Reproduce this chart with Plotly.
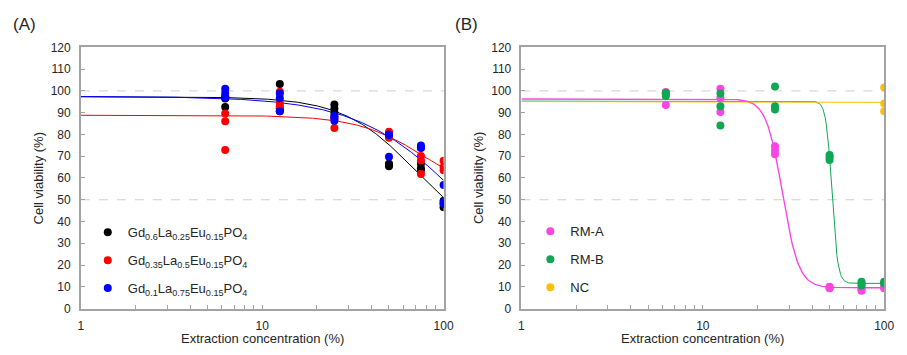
import numpy as np
import plotly.graph_objects as go

# Extraction concentrations (%) used for every sample
conc = [6.25, 12.5, 25, 50, 75, 100]

# Cell viability (%) replicates, one list per concentration
gd060 = [[92.6, 96.5, 97.5], [103.2, 90.7, 92.0], [93.7, 91.8, 90.0],
         [66.5, 65.4, 66.0], [66.5, 63.5, 64.5], [49.5, 46.6, 48.0]]
gd035 = [[89.6, 86.0, 72.9], [99.6, 94.4, 93.0], [83.0, 87.0, 88.0],
         [81.2, 79.0, 78.5], [70.1, 68.0, 61.8], [67.9, 65.0, 63.5]]
gd010 = [[101.0, 99.0, 97.0], [98.8, 96.6, 90.7], [87.8, 86.3, 88.5],
         [79.7, 80.0, 69.8], [74.9, 73.8, 74.0], [56.8, 48.1, 49.0]]

rma = [[99.5, 93.5, 99.0], [101.0, 96.6, 90.3], [74.6, 70.9, 72.5],
       [9.6, 10.0, 9.3], [8.2, 9.0, 9.5], [9.6, 10.0, 9.3]]
rmb = [[99.1, 97.6, 98.5], [98.8, 92.9, 84.1], [102.0, 93.0, 91.5],
       [70.6, 68.2, 69.5], [12.3, 10.6, 11.5], [12.35, 11.8, 11.5]]
nc_conc = [100]
nc = [[101.5, 94.2, 90.7]]

# Four-parameter logistic fits: (top, bottom, EC50, Hill slope)
fit_a = {"gd060": (97.3, 30.0, 69.6, 2.18),
         "gd035": (88.8, 50.0, 80.0, 2.31),
         "gd010": (97.5, 0.0, 133.0, 1.48)}
fit_b = {"rma": (96.3, 9.6, 27.5, 9.7),
         "rmb": (95.3, 11.6, 51.5, 27.0),
         "nc": (95.1, 94.0, 110.0, 4.0)}

# Reference levels drawn as dashed guides
ref_levels = [100, 50]

names_a = {"gd060": "Gd<sub>0.6</sub>La<sub>0.25</sub>Eu<sub>0.15</sub>PO<sub>4</sub>",
           "gd035": "Gd<sub>0.35</sub>La<sub>0.5</sub>Eu<sub>0.15</sub>PO<sub>4</sub>",
           "gd010": "Gd<sub>0.1</sub>La<sub>0.75</sub>Eu<sub>0.15</sub>PO<sub>4</sub>"}
names_b = {"rma": "RM-A", "rmb": "RM-B", "nc": "NC"}

colors = {"gd060": "#000000", "gd035": "#FF0000", "gd010": "#0000FF",
          "rma": "#FA45E6", "rmb": "#10A653", "nc": "#FFBF00"}

data_a = {"gd060": (conc, gd060), "gd035": (conc, gd035), "gd010": (conc, gd010)}
data_b = {"rma": (conc, rma), "rmb": (conc, rmb), "nc": (nc_conc, nc)}

FONT = "Liberation Sans, Arial, sans-serif"
W, H = 907, 355


def logistic(x, top, bottom, ec50, hill):
    return bottom + (top - bottom) / (1.0 + (x / ec50) ** hill)


def flatten(xs, reps):
    px, py = [], []
    for x, ys in zip(xs, reps):
        for y in ys:
            px.append(x)
            py.append(y)
    return px, py


fig = go.Figure()
xfit = np.logspace(0, 2, 400)

panels = [("x", "y", "legend", data_a, fit_a, names_a),
          ("x2", "y2", "legend2", data_b, fit_b, names_b)]

for xa, ya, leg, data, fits, names in panels:
    for key, pars in fits.items():
        lw = 1.4 if key == "rma" else 1.0
        fig.add_trace(go.Scatter(
            x=xfit, y=logistic(xfit, *pars), mode="lines",
            line=dict(color=colors[key], width=lw),
            showlegend=False, hoverinfo="skip", xaxis=xa, yaxis=ya))
    for key, (xs, reps) in data.items():
        px, py = flatten(xs, reps)
        fig.add_trace(go.Scatter(
            x=px, y=py, mode="markers", name=names[key],
            marker=dict(color=colors[key], size=8, line=dict(width=0)),
            legend=leg, legendgroup=key, xaxis=xa, yaxis=ya))

x_dom_a = [79 / W, 447 / W]
x_dom_b = [526 / W, 894 / W]
y_dom = [(H - 314) / H, (H - 42) / H]

frame = "#A3A3A3"
tick_font = dict(family=FONT, size=12, color="#262626")

xaxis_common = dict(
    type="log", range=[0, 2], tickvals=[1, 10, 100], ticktext=["1", "10", "100"],
    ticks="inside", ticklen=4, tickcolor=frame, tickwidth=1,
    minor=dict(ticks="inside", ticklen=4, tickcolor=frame, dtick="D1", showgrid=False),
    showline=True, linecolor=frame, linewidth=1.5, mirror=True,
    showgrid=False, zeroline=False, tickfont=tick_font, ticklabelstandoff=5)
yaxis_common = dict(
    range=[0, 120], dtick=10, tick0=0,
    ticks="inside", ticklen=4, tickcolor=frame, tickwidth=1,
    showline=True, linecolor=frame, linewidth=1.5, mirror=True,
    showgrid=False, zeroline=False, tickfont=tick_font, ticklabelstandoff=6)

fig.update_layout(
    width=W, height=H, margin=dict(l=0, r=0, t=0, b=0),
    paper_bgcolor="white", plot_bgcolor="white",
    font=dict(family=FONT, size=12, color="#262626"),
    xaxis=dict(domain=x_dom_a, anchor="y", **xaxis_common),
    yaxis=dict(domain=y_dom, anchor="x", **yaxis_common),
    xaxis2=dict(domain=x_dom_b, anchor="y2", **xaxis_common),
    yaxis2=dict(domain=y_dom, anchor="x2", **yaxis_common),
    legend=dict(x=86 / W, y=(H - 219) / H, xanchor="left", yanchor="top",
                bgcolor="rgba(0,0,0,0)", font=dict(family=FONT, size=13, color="#262626"),
                tracegroupgap=8, itemclick=False),
    legend2=dict(x=535 / W, y=(H - 218) / H, xanchor="left", yanchor="top",
                 bgcolor="rgba(0,0,0,0)", font=dict(family=FONT, size=13, color="#262626"),
                 tracegroupgap=8, itemclick=False),
    showlegend=True,
)

for xa, ya in [("x", "y"), ("x2", "y2")]:
    for lvl in ref_levels:
        fig.add_shape(type="line", xref=f"{xa} domain", yref=ya, x0=0, x1=1,
                      y0=lvl, y1=lvl, line=dict(color="#CFCFCF", width=1, dash="dash"),
                      layer="below")

annotations = [
    dict(text="(A)", x=8 / W, y=(H - 18) / H, xanchor="left", yanchor="middle",
         font=dict(size=17)),
    dict(text="(B)", x=457 / W, y=(H - 18) / H, xanchor="left", yanchor="middle",
         font=dict(size=17)),
    dict(text="Cell viability (%)", x=37 / W, y=(H - 178) / H, textangle=-90,
         xanchor="center", yanchor="middle", font=dict(size=13)),
    dict(text="Cell viability (%)", x=483 / W, y=(H - 178) / H, textangle=-90,
         xanchor="center", yanchor="middle", font=dict(size=13)),
    dict(text="Extraction concentration (%)", x=263 / W, y=0,
         xanchor="center", yanchor="bottom", font=dict(size=13)),
    dict(text="Extraction concentration (%)", x=710 / W, y=0,
         xanchor="center", yanchor="bottom", font=dict(size=13)),
]
for a in annotations:
    fig.add_annotation(xref="paper", yref="paper", showarrow=False, **a)

fig.write_html("out.html")
